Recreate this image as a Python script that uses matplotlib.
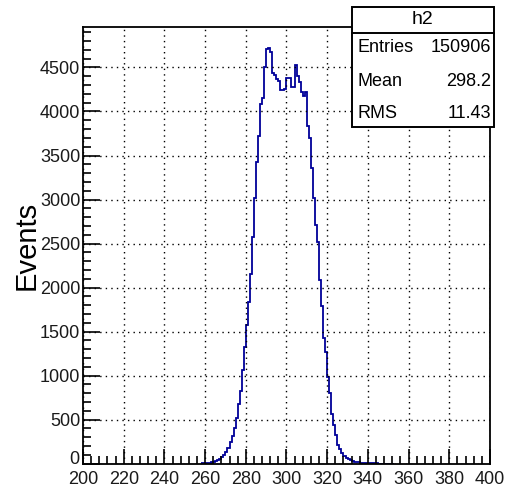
import numpy as np
import matplotlib
matplotlib.use("Agg")
import matplotlib.pyplot as plt
from matplotlib.ticker import MultipleLocator, FuncFormatter
from matplotlib.patches import Rectangle

plt.rcParams['font.family'] = ['Liberation Sans', 'DejaVu Sans']

# histogram h2: 1-unit bins, first bin starts at 258
first_edge = 258
counts = [
    3, 4, 6, 9, 12, 16, 22, 30, 40, 55,               # 258-267
    75, 100, 135, 180, 250, 310, 400, 520, 680, 830,  # 268-277
    1060, 1320, 1580, 1840, 2160, 2580, 3020, 3430, 3720, 4090,  # 278-287
    4150, 4500, 4710, 4720, 4670, 4440, 4410, 4370, 4350, 4240,  # 288-297
    4240, 4250, 4380, 4380, 4280, 4280, 4530, 4400, 4340, 4220,  # 298-307
    4180, 4220, 3830, 3700, 3360, 3020, 2710, 2520, 2090, 1790,  # 308-317
    1430, 1270, 990, 800, 560, 440, 330, 215, 165, 120,          # 318-327
    85, 60, 48, 38, 30, 24, 18, 14, 11, 9,                       # 328-337
    7, 6, 5, 4, 4, 3, 3, 2, 2, 2, 2, 1, 1, 1, 1,                 # 338-352
]
hist_name = "h2"
stat_labels = ["Entries", "Mean", "RMS"]
stat_values = ["150906", "298.2", "11.43"]
y_label = "Events"

edges = np.arange(first_edge, first_edge + len(counts) + 1)

fig = plt.figure(figsize=(5.06, 4.90), dpi=100)
ax = fig.add_axes([83 / 506, 1 - 463.7 / 490, (490 - 83) / 506, (463.7 - 27.3) / 490])

ax.stairs(counts, edges, baseline=None, color="#000099", lw=1.3)

ax.set_xlim(200, 400)
ax.set_ylim(0, 1.05 * max(counts))

ax.xaxis.set_major_locator(MultipleLocator(20))
ax.xaxis.set_minor_locator(MultipleLocator(4))
ax.yaxis.set_major_locator(MultipleLocator(500))
ax.yaxis.set_minor_locator(MultipleLocator(100))
# the "0" label is drawn by hand a little higher so it clears "200"
ax.yaxis.set_major_formatter(FuncFormatter(lambda v, p: "" if v == 0 else "%d" % v))
ax.tick_params(which="both", direction="in", top=False, right=False,
               labelsize=13, width=1.2, colors="black")
ax.tick_params(axis="x", which="major", length=11, pad=5)
ax.tick_params(axis="x", which="minor", length=6)
ax.tick_params(axis="y", which="major", length=12, pad=2)
ax.tick_params(axis="y", which="minor", length=6)
for lab in ax.get_xticklabels() + ax.get_yticklabels():
    lab.set_color("#1a1a1a")
ax.annotate("0", xy=(0, 0), xycoords="axes fraction", xytext=(-2.5, 3),
            textcoords="offset points", ha="right", va="center",
            fontsize=13, color="#1a1a1a")

ax.grid(True, which="major", color="black", linestyle=(0, (1, 3)), lw=1)
for sp in ax.spines.values():
    sp.set_linewidth(1.3)

ax.set_ylabel(y_label, fontsize=21)
ax.yaxis.set_label_coords(-0.103, 0.5)

# stats box
bx0, bx1 = 351.7, 494
by0, by1, by_sep = 6.7, 127, 33
fig.patches.append(Rectangle((bx0 / 506, 1 - by1 / 490), (bx1 - bx0) / 506, (by1 - by0) / 490,
                             transform=fig.transFigure, facecolor="white",
                             edgecolor="black", lw=1.4, zorder=5))
fig.add_artist(plt.Line2D([bx0 / 506, bx1 / 506], [1 - by_sep / 490] * 2,
                          transform=fig.transFigure, color="black", lw=1.4, zorder=6))
fig.text((bx0 + bx1) / 2 / 506, 1 - 20 / 490, hist_name, ha="center", va="center",
         fontsize=14, zorder=7)
row_y = [47, 81, 113]
for lbl, val, yy in zip(stat_labels, stat_values, row_y):
    fig.text(358 / 506, 1 - yy / 490, lbl, ha="left", va="center", fontsize=13, zorder=7)
    fig.text(491 / 506, 1 - yy / 490, val, ha="right", va="center", fontsize=13, zorder=7)

fig.savefig("out.png", dpi=100)
